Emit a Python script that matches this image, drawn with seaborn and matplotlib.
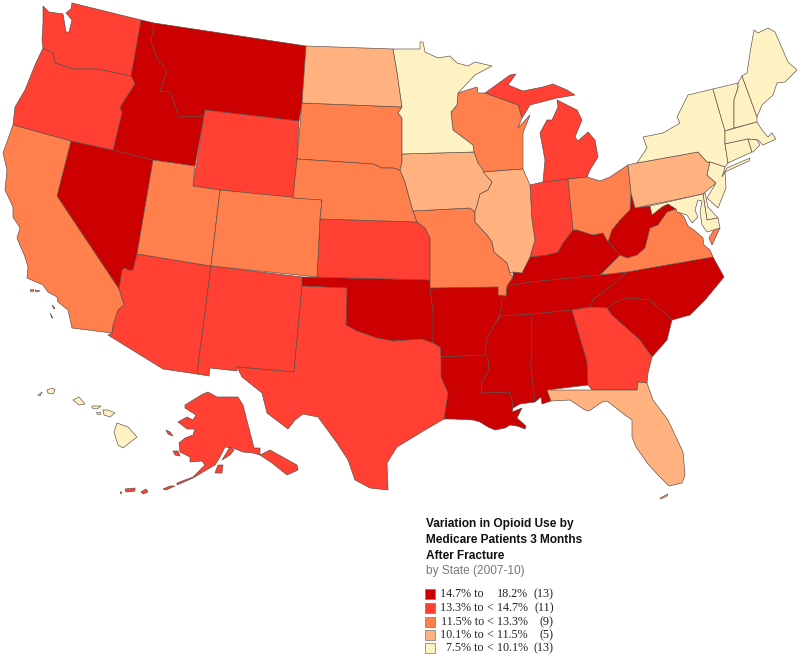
import matplotlib
matplotlib.use('Agg')
import matplotlib.pyplot as plt
import pandas as pd
import seaborn as sns

# legend text
title_lines = ['Variation in Opioid Use by', 'Medicare Patients 3 Months', 'After Fracture']
subtitle = 'by State (2007-10)'
low_labels = ['14.7% to', '13.3% to', '11.5% to', '10.1% to', '7.5% to']
high_labels = ['18.2%', '< 14.7%', '< 13.3%', '< 11.5%', '< 10.1%']
count_labels = ['(13)', '(11)', '(9)', '(5)', '(13)']
colors = ['#cc0000', '#ff4033', '#ff7f4d', '#ffb280', '#fff2c2']

# class of each state, index into colors
class_1 = ['ID', 'MT', 'NV', 'OK', 'AR', 'LA', 'MS', 'AL', 'TN', 'KY', 'WV', 'NC', 'SC']
class_2 = ['WA', 'OR', 'WY', 'AZ', 'NM', 'TX', 'KS', 'IN', 'MI', 'MI2', 'GA', 'AK', 'AK2', 'AK3', 'AK4', 'AK5',
           'AK6', 'AK7', 'AK8', 'AK9']
class_3 = ['CA', 'CA2', 'CA3', 'CA4', 'CA5', 'UT', 'CO', 'SD', 'NE', 'WI', 'MO', 'OH', 'VA', 'VA2']
class_4 = ['ND', 'IA', 'IL', 'PA', 'FL', 'FL2']
class_5 = ['MN', 'NY', 'LI', 'VT', 'NH', 'ME', 'MA', 'CT', 'RI', 'NJ', 'DE', 'MD',
           'HI', 'HI2', 'HI3', 'HI4', 'HI5', 'HI6', 'HI7']

# state outlines
WA = [(72,3),(141,20),(131,76),(97,69),(73,69),(55,63),(53,53),(43,48),(42,40),(43,23),(43,6),(49,12),(63,14),(66,32),(69,32),(72,20),(66,13),(71,9)]
OR = [(43,48),(53,53),(55,63),(73,69),(97,69),(131,76),(135,84),(120,107),(122,113),(113,150),(71,141),(13,125),(15,107),(25,90),(35,65)]
ID = [(141,20),(154,23),(151,42),(158,60),(167,70),(160,91),(170,92),(176,108),(179,117),(197,116),(203,117),(205,110),(195,166),(153,160),(113,150),(122,113),(120,107),(135,84),(131,76)]
MT = [(154,23),(306,46),(302,103),(299,121),(205,110),(203,117),(197,116),(179,117),(176,108),(170,92),(160,91),(167,70),(158,60),(151,42)]
ND = [(306,46),(393,49),(397,72),(402,107),(302,103)]
SD = [(302,103),(402,107),(398,113),(402,118),(402,154),(402,162),(400,170),(393,168),(382,168),(373,164),(297,159)]
MN = [(393,49),(420,49),(420,42),(423,42),(425,52),(438,58),(450,56),(457,63),(468,66),(475,62),(492,66),(475,75),(458,93),(457,105),(451,112),(453,130),(473,145),(474,152),(402,154),(402,118),(398,113),(402,107),(397,72)]
WY = [(205,110),(299,121),(297,159),(293,198),(220,190),(193,186)]
NE = [(297,159),(373,164),(382,168),(393,168),(400,170),(405,182),(412,208),(417,222),(320,219),(322,200),(293,198)]
UT = [(153,160),(195,166),(193,186),(220,190),(211,266),(137,254)]
NV = [(71,141),(113,150),(153,160),(137,254),(133,270),(128,270),(125,268),(122,270),(119,289),(57,196)]
CA = [(13,125),(71,141),(57,196),(119,289),(120,292),(124,305),(118,310),(113,325),(112,333),(72,328),(68,310),(58,302),(57,297),(48,292),(43,285),(27,278),(28,267),(25,257),(17,238),(20,228),(13,217),(13,207),(5,190),(7,170),(3,153)]
CA2 = [(30,289),(33,289),(33,291),(30,291)]
CA3 = [(35,290),(40,291),(36,292)]
CA4 = [(52,305),(55,308),(54,309)]
CA5 = [(50,313),(53,318),(52,318)]
CO = [(220,190),(322,200),(320,219),(317,277),(211,266)]
AZ = [(137,254),(211,266),(197,374),(163,369),(108,335),(112,333),(113,325),(118,310),(124,305),(120,292),(119,289),(122,270),(125,268),(128,270),(133,270)]
NM = [(211,266),(302,277),(302,286),(294,372),(237,367),(237,371),(210,368),(209,376),(197,374)]
KS = [(320,219),(417,222),(425,228),(430,238),(430,280),(317,277)]
OK = [(302,277),(430,280),(430,288),(433,310),(433,343),(422,339),(393,341),(377,338),(357,331),(346,325),(347,288),(302,286)]
TX = [(302,286),(347,288),(346,325),(357,331),(377,338),(393,341),(422,339),(433,343),(440,347),(441,357),(441,377),(448,393),(444,419),(430,427),(397,447),(387,463),(388,490),(370,488),(355,480),(348,460),(337,443),(318,417),(303,414),(295,420),(288,429),(267,413),(262,393),(242,377),(237,367),(294,372)]
IA = [(402,154),(474,152),(478,163),(492,182),(488,190),(480,194),(478,202),(475,212),(470,208),(413,211),(412,208),(405,182),(400,170),(402,162)]
MO = [(413,211),(470,208),(475,212),(475,222),(487,235),(492,242),(494,252),(507,263),(510,273),(513,277),(507,286),(506,296),(498,295),(498,287),(430,288),(430,238),(425,228),(417,222)]
AR = [(430,288),(498,287),(498,295),(506,296),(502,300),(500,315),(493,327),(488,337),(485,348),(486,355),(441,357),(440,347),(433,343),(433,310)]
LA = [(441,357),(486,355),(489,363),(488,372),(482,382),(481,393),(510,392),(512,400),(513,408),(512,412),(522,408),(517,418),(526,426),(525,429),(517,426),(510,425),(505,428),(495,430),(488,427),(480,422),(473,420),(453,419),(444,419),(448,393),(441,377)]
WI = [(458,93),(477,87),(478,93),(485,93),(518,105),(522,118),(518,128),(530,115),(523,133),(523,169),(483,172),(478,163),(474,152),(473,145),(453,130),(451,112),(457,105)]
MI = [(485,93),(510,75),(516,74),(508,85),(523,91),(543,87),(553,84),(567,90),(575,95),(557,98),(530,105),(522,118),(518,105)]
MI2 = [(557,100),(577,110),(582,120),(575,137),(578,141),(588,132),(595,140),(598,157),(590,170),(587,177),(568,179),(543,182),(545,160),(540,133),(547,120),(552,120),(558,107)]
IL = [(483,172),(523,169),(530,185),(532,220),(535,240),(530,257),(522,273),(513,272),(510,273),(507,263),(494,252),(492,242),(487,235),(475,222),(475,212),(478,202),(480,194),(488,190),(492,182)]
IN = [(530,185),(543,182),(568,179),(573,228),(573,230),(563,243),(558,252),(547,255),(530,257),(535,240),(532,220)]
OH = [(568,179),(587,177),(600,181),(610,177),(628,165),(631,193),(630,210),(620,220),(612,230),(608,242),(603,233),(593,235),(577,230),(573,230)]
KY = [(513,272),(522,273),(530,257),(547,255),(558,252),(563,243),(573,230),(577,230),(593,235),(603,233),(608,242),(620,255),(600,275),(530,282),(507,286),(513,277)]
TN = [(507,286),(530,282),(600,275),(627,272),(610,287),(593,300),(590,307),(572,310),(532,314),(500,316),(500,315),(502,300),(506,296)]
MS = [(500,316),(532,314),(531,368),(535,402),(520,404),(513,408),(512,400),(510,392),(481,393),(482,382),(488,372),(489,363),(486,355),(485,348),(488,337),(493,327)]
AL = [(532,314),(572,310),(587,362),(588,385),(547,390),(551,401),(542,404),(541,397),(535,402),(531,368)]
GA = [(572,310),(590,307),(607,308),(612,315),(640,340),(652,357),(648,373),(647,383),(638,382),(637,390),(592,390),(588,385),(587,362)]
SC = [(607,308),(620,300),(630,298),(650,300),(672,320),(667,340),(652,357),(640,340),(612,315)]
NC = [(627,272),(713,257),(724,277),(715,288),(705,300),(690,315),(672,320),(650,300),(630,298),(620,300),(607,308),(590,307),(593,300),(610,287)]
FL = [(547,390),(592,390),(637,390),(638,382),(647,383),(653,400),(668,420),(683,452),(685,475),(682,483),(669,486),(658,475),(648,464),(636,447),(632,437),(632,420),(625,415),(607,401),(602,402),(589,411),(585,410),(570,400),(551,401)]
FL2 = [(660,498),(668,494),(667,496),(661,499)]
VA = [(600,275),(620,255),(627,258),(637,255),(645,248),(650,228),(658,225),(667,212),(676,209),(684,217),(688,226),(694,230),(703,238),(704,245),(710,250),(713,257),(627,272)]
VA2 = [(715,228),(720,228),(712,245),(709,238)]
WV = [(631,193),(635,208),(650,206),(652,215),(662,207),(668,204),(676,209),(667,212),(658,225),(650,228),(645,248),(637,255),(627,258),(620,255),(608,242),(612,230),(620,220),(630,210)]
PA = [(628,165),(637,163),(698,152),(707,162),(710,162),(707,175),(716,183),(703,194),(635,208),(631,193)]
NY = [(637,163),(647,148),(643,137),(663,133),(680,123),(677,117),(688,95),(713,89),(718,107),(725,130),(725,144),(728,163),(725,167),(710,162),(707,162),(698,152)]
LI = [(727,168),(750,158),(749,161),(727,171),(724,173)]
NJ = [(710,162),(725,167),(722,177),(725,172),(726,188),(718,208),(707,198),(716,183),(707,175)]
DE = [(703,194),(705,193),(708,207),(718,218),(707,220)]
MD = [(650,206),(703,194),(707,220),(718,218),(720,228),(707,232),(702,225),(700,212),(702,201),(698,200),(695,210),(698,217),(692,223),(687,215),(677,212),(676,209),(668,204),(662,207),(652,215)]
VT = [(713,89),(738,83),(738,88),(734,100),(734,128),(725,131),(718,107)]
NH = [(738,83),(742,76),(757,117),(757,122),(734,128),(734,100),(738,88)]
ME = [(742,76),(747,73),(750,53),(754,30),(758,33),(768,28),(775,32),(788,62),(797,70),(785,82),(777,83),(773,95),(762,105),(757,117)]
MA = [(725,131),(757,122),(762,130),(768,137),(772,133),(776,139),(763,145),(758,140),(748,139),(725,144)]
CT = [(725,144),(748,139),(752,152),(728,163)]
RI = [(748,139),(757,140),(760,145),(753,152),(752,152)]
AK = [(185,405),(193,400),(203,394),(208,392),(217,397),(238,397),(243,405),(254,448),(260,448),(260,455),(270,450),(297,465),(298,470),(287,475),(272,463),(260,455),(253,453),(243,452),(233,448),(225,447),(220,457),(215,465),(203,472),(193,478),(177,485),(177,483),(193,477),(205,465),(202,461),(190,462),(190,457),(180,452),(179,443),(185,438),(193,435),(195,429),(187,429),(178,422),(187,417),(193,420),(196,415),(185,408)]
AK2 = [(215,473),(218,465),(223,465),(222,473)]
AK3 = [(222,460),(230,447),(234,450),(230,455)]
AK4 = [(173,451),(178,451),(180,456),(175,455)]
AK5 = [(166,430),(170,432),(173,436),(168,434)]
AK6 = [(163,489),(170,486),(175,486),(166,490)]
AK7 = [(125,489),(135,488),(135,491),(126,492)]
AK8 = [(141,492),(146,489),(148,492),(143,494)]
AK9 = [(120,492),(122,492),(121,494)]
HI = [(117,423),(128,427),(137,437),(123,448),(118,445),(114,432)]
HI2 = [(103,410),(108,410),(115,413),(110,417),(104,415)]
HI3 = [(92,406),(101,406),(97,409),(92,408)]
HI4 = [(96,412),(100,412),(100,414),(97,414)]
HI5 = [(73,400),(79,397),(85,404),(79,405)]
HI6 = [(47,390),(52,388),(55,390),(53,394),(48,393)]
HI7 = [(38,395),(42,392),(40,396)]

sns.set_theme(style='white')
palette = sns.color_palette(colors)

fig = plt.figure(figsize=(8, 6.57))
ax = fig.add_axes([0, 0, 1, 1])

for i, group in enumerate([class_1, class_2, class_3, class_4, class_5]):
    for name in group:
        xs, ys = zip(*globals()[name])
        ax.fill(xs, ys, facecolor=palette[i], edgecolor='#5a4a44', linewidth=0.45, joinstyle='round')

# legend swatches
legend_y = [594, 608, 622, 635, 648]
legend_df = pd.DataFrame({'x': [430] * 5, 'y': legend_y, 'band': low_labels})
sns.scatterplot(data=legend_df, x='x', y='y', hue='band', palette=colors, marker='s', s=56,
                edgecolor='#777777', linewidth=0.5, legend=False, ax=ax)

for i in range(5):
    y = legend_y[i]
    ax.text(484, y, low_labels[i], family='Liberation Serif', fontsize=8.7, ha='right', va='center', color='#222222')
    ax.text(528, y, high_labels[i], family='Liberation Serif', fontsize=8.7, ha='right', va='center', color='#222222')
    ax.text(554, y, count_labels[i], family='Liberation Serif', fontsize=8.7, ha='right', va='center', color='#222222')

for line, y in zip(title_lines, [524, 540, 556]):
    ax.text(426, y, line, family='Liberation Sans', fontweight='bold', fontsize=8.55, va='center', color='#111111')
ax.text(426, 571, subtitle, family='Liberation Sans', fontsize=8.6, va='center', color='#777777')

ax.set_xlim(0, 800)
ax.set_ylim(657, 0)
ax.axis('off')

plt.savefig('out.png', dpi=100, facecolor='white')
